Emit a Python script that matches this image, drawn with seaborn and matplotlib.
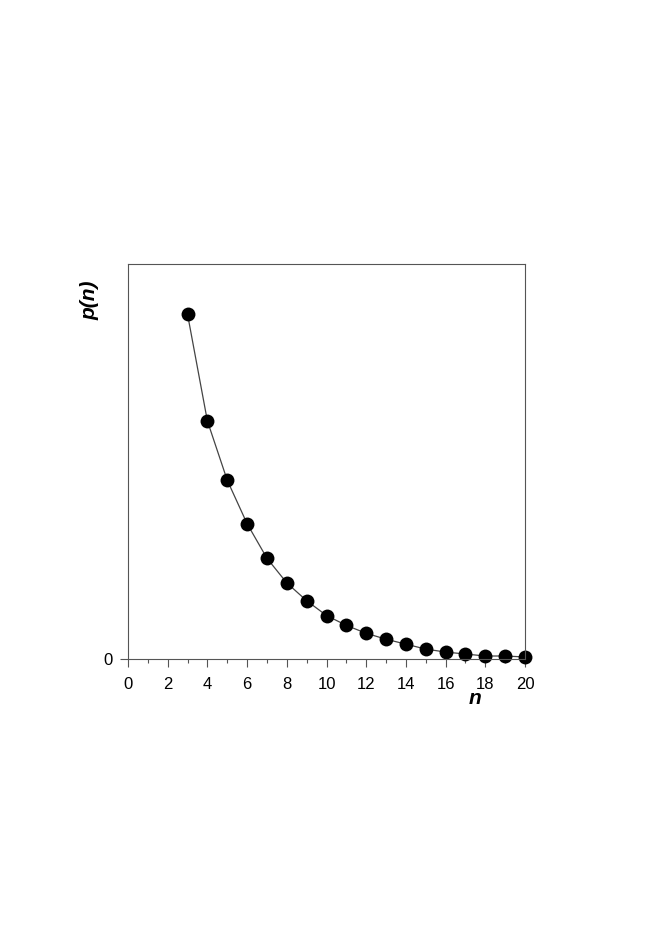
import matplotlib
matplotlib.use('Agg')
import matplotlib.pyplot as plt
from matplotlib.ticker import MultipleLocator
import pandas as pd
import seaborn as sns

# values (arbitrary units, axis runs 0..0.4)
n = [3, 4, 5, 6, 7, 8, 9, 10, 11, 12, 13, 14, 15, 16, 17, 18, 19, 20]
p = [0.349, 0.241, 0.181, 0.137, 0.102, 0.077, 0.059, 0.044, 0.034,
     0.026, 0.020, 0.015, 0.010, 0.007, 0.005, 0.003, 0.003, 0.002]

df = pd.DataFrame({'n': n, 'p': p})

sns.set_style('ticks')
plt.rcParams['font.family'] = ['Liberation Sans', 'DejaVu Sans']
plt.rcParams['text.color'] = 'black'

fig = plt.figure(figsize=(6.54, 9.25), dpi=100)
ax = fig.add_axes([0.1957, 0.2876, 0.6071, 0.4270])

sns.lineplot(ax=ax, data=df, x='n', y='p', color='#444444', linewidth=0.9,
             marker='o', markersize=10, markerfacecolor='black',
             markeredgecolor='black', markeredgewidth=0, clip_on=False)

ax.set_xlim(0, 20)
ax.set_ylim(0, 0.4)
ax.xaxis.set_major_locator(MultipleLocator(2))
ax.xaxis.set_minor_locator(MultipleLocator(1))
ax.set_yticks([0])
ax.set_yticklabels(['0'])
ax.tick_params(axis='both', which='major', length=6, width=0.8,
               color='#555555', labelcolor='black', labelsize=12,
               direction='out', pad=5)
ax.tick_params(axis='x', which='major', pad=7)
ax.tick_params(axis='x', which='minor', length=3, width=0.8, color='#555555')

for s in ax.spines.values():
    s.set_color('#555555')
    s.set_linewidth(0.8)
    s.set_visible(True)

ax.set_xlabel('')
ax.set_ylabel('')
fig.text(0.727, 0.2445, 'n', fontsize=15, fontweight='bold', style='italic',
         color='black', ha='center', va='center')
fig.text(0.138, 0.675, 'p(n)', fontsize=15, fontweight='bold', style='italic',
         color='black', rotation=90, ha='center', va='center')

fig.savefig('out.png', dpi=100)
